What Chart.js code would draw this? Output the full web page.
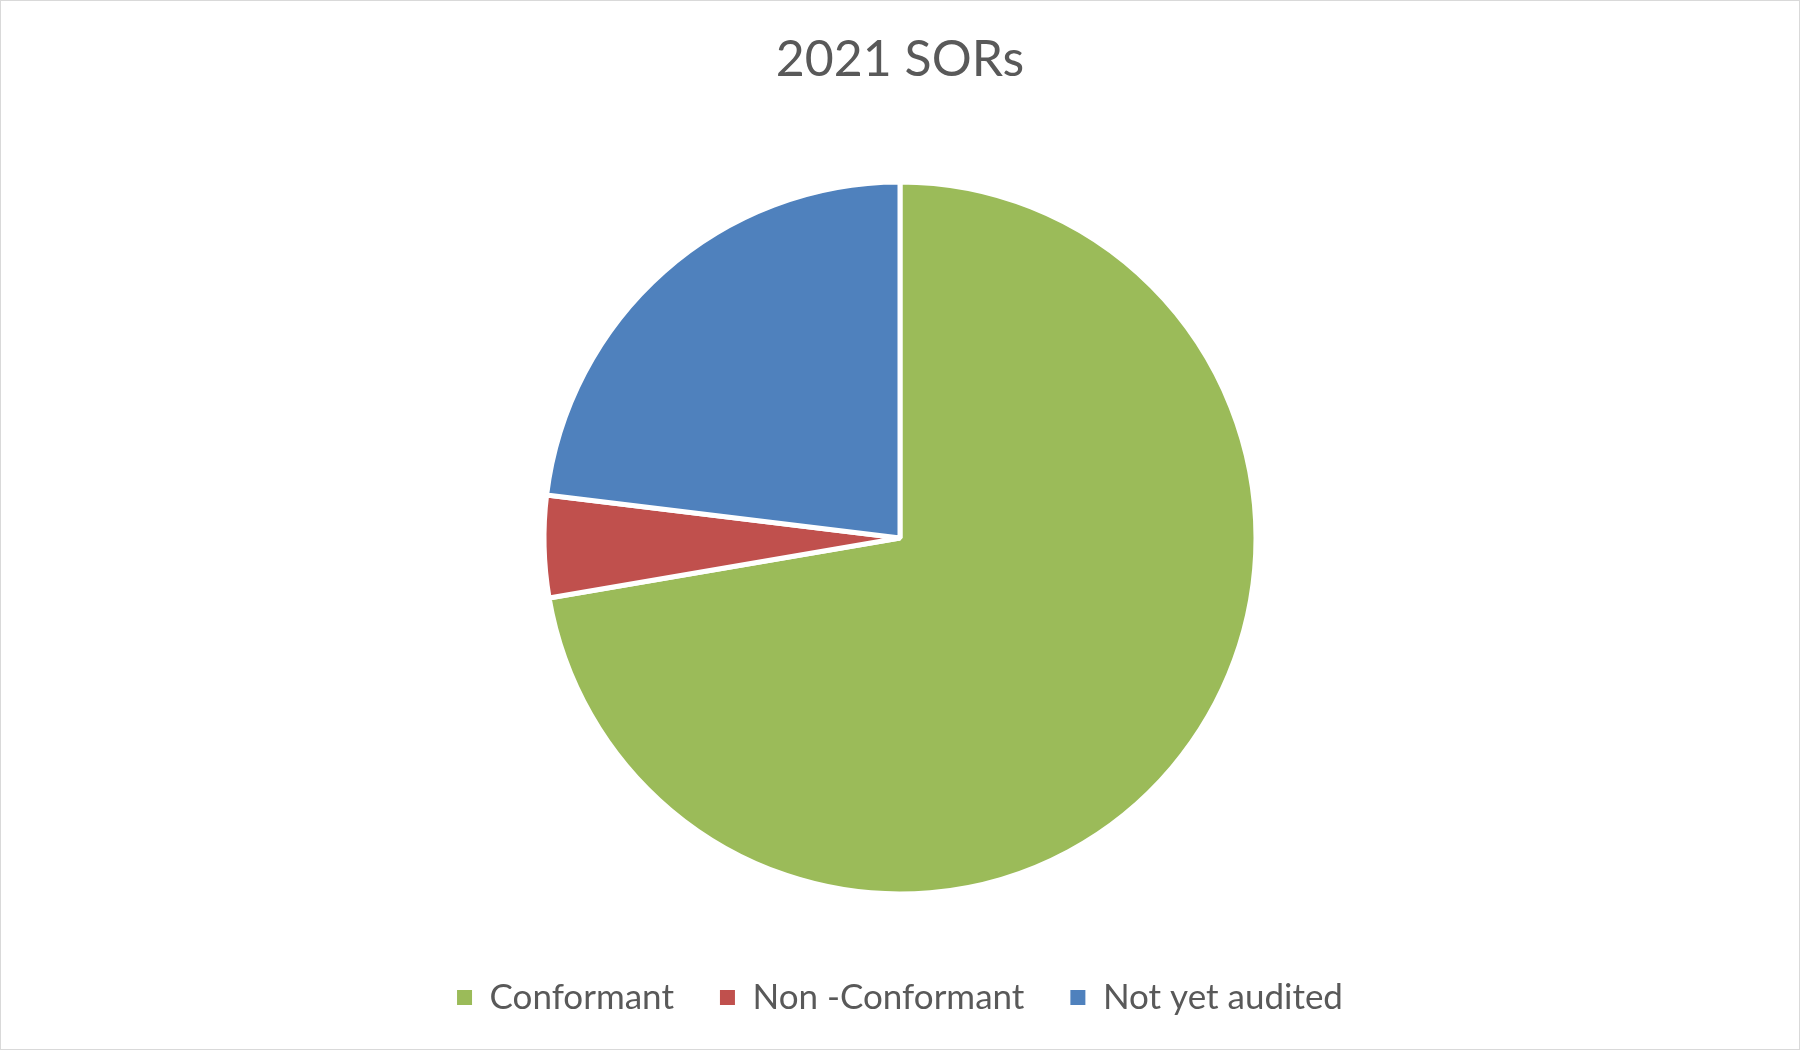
<!DOCTYPE html>
<html>
<head>
<meta charset="utf-8">
<title>2021 SORs</title>
<script src="https://cdn.jsdelivr.net/npm/chart.js@4/dist/chart.umd.min.js"></script>
<style>
	html, body { margin: 0; padding: 0; background: #fff; }
	.chart-box {
		width: 1800px;
		height: 1050px;
		box-sizing: border-box;
		border: 1px solid #d9d9d9;
		position: relative;
	}
</style>
</head>
<body>
<div class="chart-box"><canvas id="sors"></canvas></div>
<script>
// данные с картинки
const categories = ['Conformant', 'Non -Conformant', 'Not yet audited'];
const sorCounts = [47, 3, 15];
const sliceColors = ['#9BBB59', '#C0504D', '#4F81BD'];

const textColor = '#595959';
const fontFamily = 'Lato, "Open Sans", sans-serif';

function chartInit() {
	const ctx = document.getElementById('sors');
	const defaultLabels = Chart.overrides.pie.plugins.legend.labels.generateLabels;

	new Chart(ctx, {
		type: 'pie',
		data: {
			labels: categories,
			datasets: [{
				data: sorCounts,
				backgroundColor: sliceColors,
				borderColor: '#ffffff',
				borderWidth: 5,
				radius: 356,
			}]
		},
		options: {
			responsive: true,
			maintainAspectRatio: false,
			animation: false,
			layout: {
				padding: { top: 0, bottom: 24, left: 0, right: 0 }
			},
			plugins: {
				title: {
					display: true,
					text: '2021 SORs',
					color: textColor,
					font: { family: fontFamily, size: 50, weight: 'normal', lineHeight: 1.2 },
					padding: { top: 29, bottom: 52 }
				},
				legend: {
					position: 'bottom',
					labels: {
						color: textColor,
						font: { family: fontFamily, size: 35 },
						boxWidth: 15,
						boxHeight: 15,
						padding: 46,
						// без белой обводки у квадратиков
						generateLabels: (chart) => defaultLabels(chart).map(item => ({ ...item, lineWidth: 0 }))
					}
				},
				tooltip: { enabled: false }
			}
		}
	});
}
window.addEventListener('load', chartInit);
</script>
</body>
</html>
